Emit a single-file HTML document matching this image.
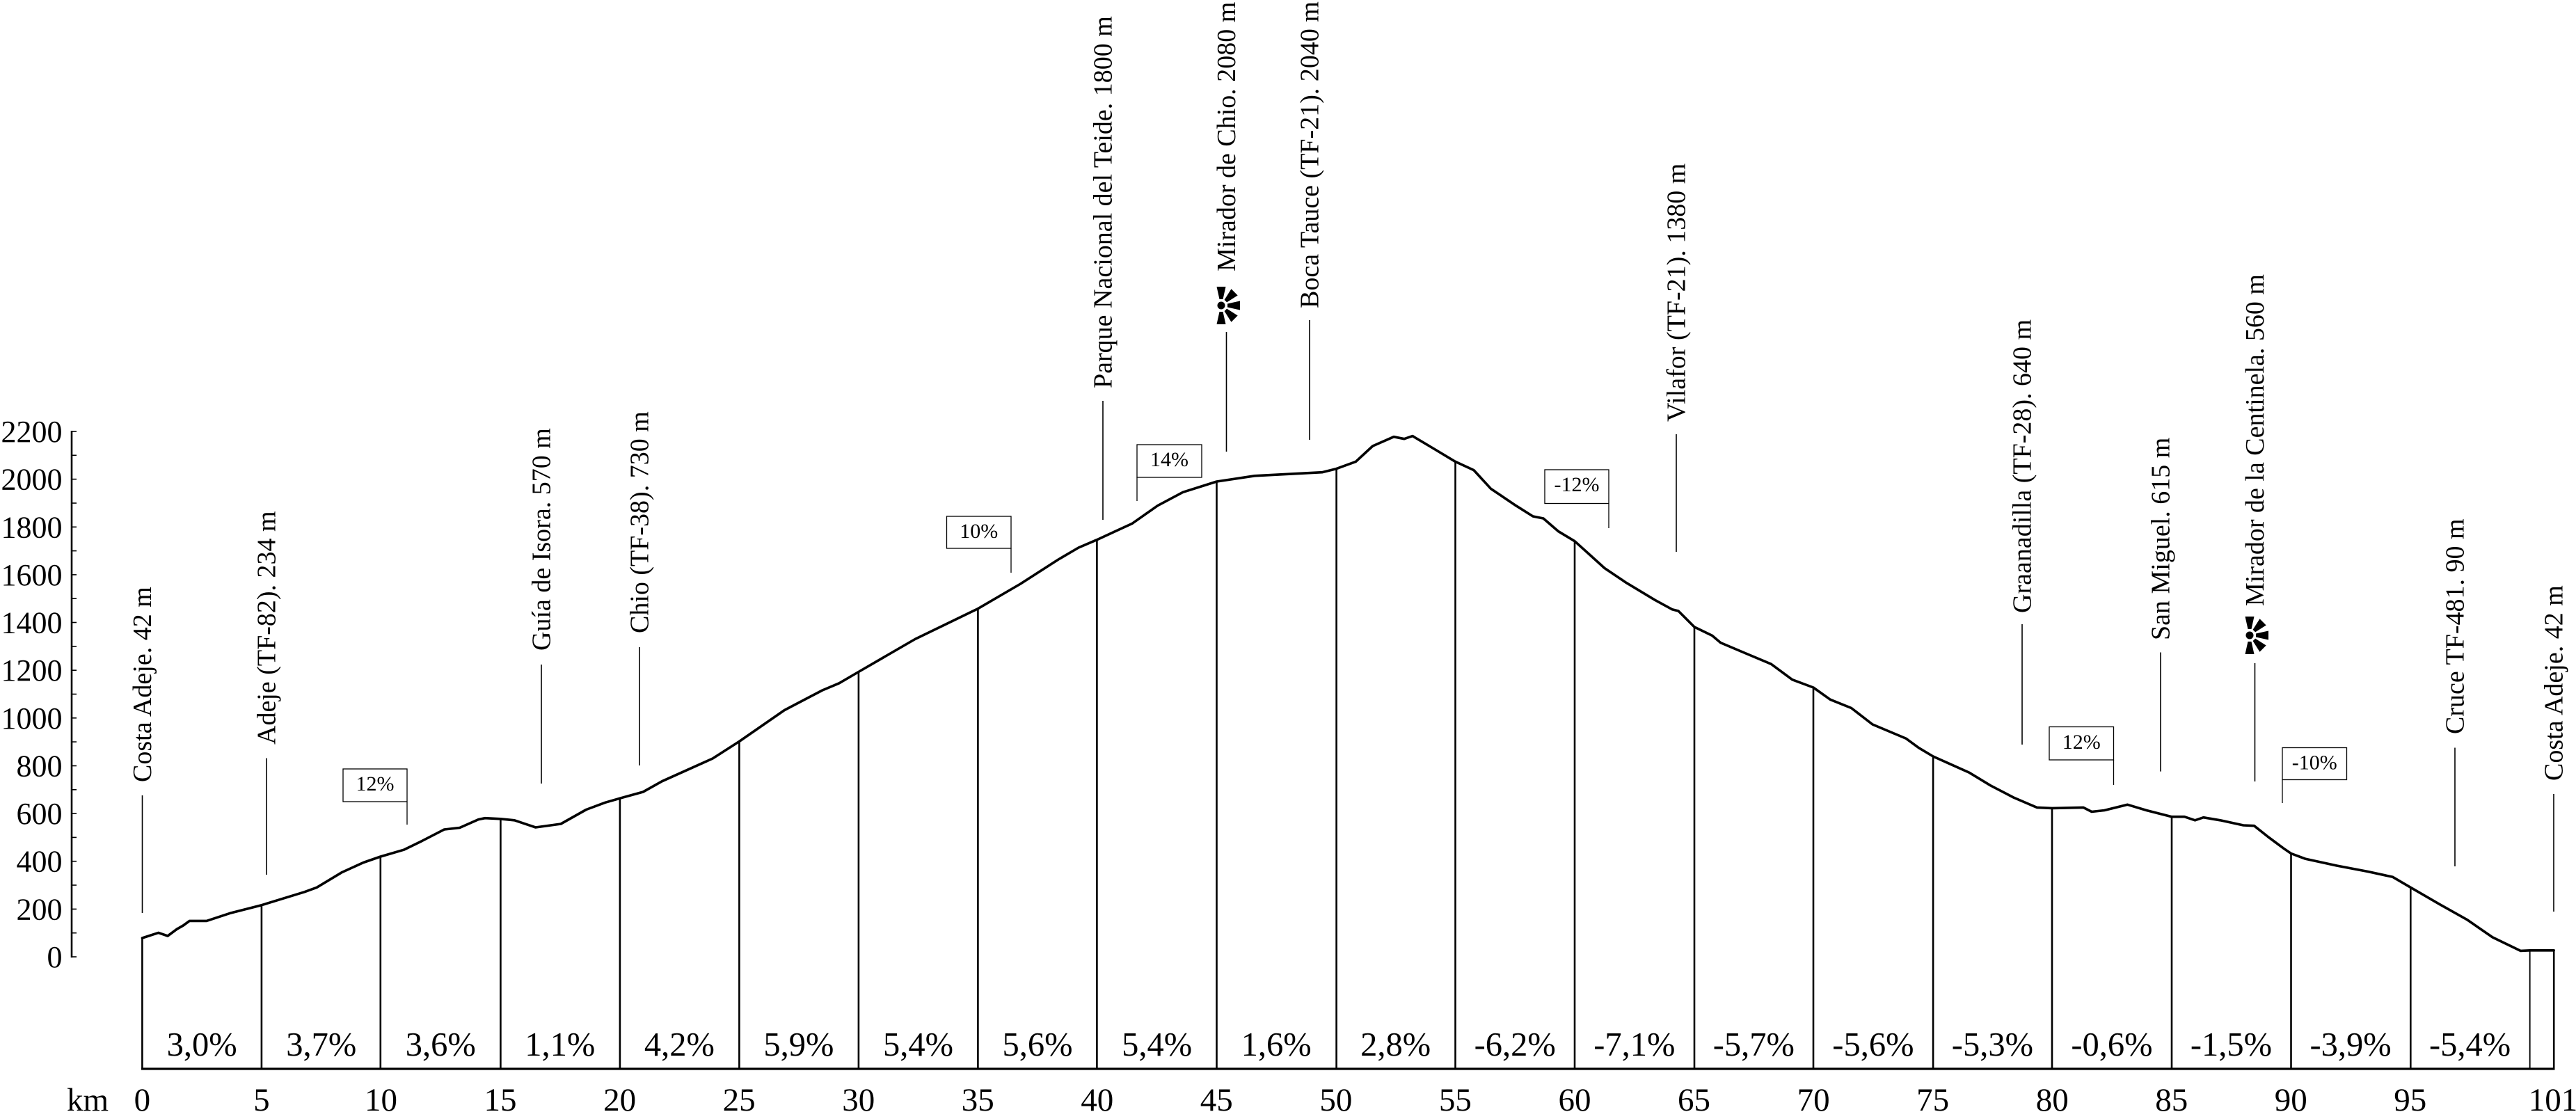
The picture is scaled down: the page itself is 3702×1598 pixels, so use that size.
<!DOCTYPE html>
<html>
<head>
<meta charset="utf-8">
<style>
  html,body{margin:0;padding:0;background:#fff;}
  svg{display:block;}
  text{font-family:"Liberation Serif","Times New Roman",serif;fill:#000;}
</style>
</head>
<body>
<svg width="3702" height="1598" viewBox="0 0 3702 1598" xmlns="http://www.w3.org/2000/svg" font-family="Liberation Serif, Times New Roman, serif">
<rect width="3702" height="1598" fill="#fff"/>

<!-- Y axis -->
<g stroke="#000" fill="none">
  <line x1="103" y1="619" x2="103" y2="1376" stroke-width="2.6"/>
  <g stroke-width="1.6">
    <line x1="103" y1="1375" x2="110" y2="1375"/>
    <line x1="103" y1="1340.7" x2="110" y2="1340.7"/>
    <line x1="103" y1="1306.4" x2="110" y2="1306.4"/>
    <line x1="103" y1="1272.0" x2="110" y2="1272.0"/>
    <line x1="103" y1="1237.7" x2="110" y2="1237.7"/>
    <line x1="103" y1="1203.4" x2="110" y2="1203.4"/>
    <line x1="103" y1="1169.1" x2="110" y2="1169.1"/>
    <line x1="103" y1="1134.8" x2="110" y2="1134.8"/>
    <line x1="103" y1="1100.5" x2="110" y2="1100.5"/>
    <line x1="103" y1="1066.1" x2="110" y2="1066.1"/>
    <line x1="103" y1="1031.8" x2="110" y2="1031.8"/>
    <line x1="103" y1="997.5" x2="110" y2="997.5"/>
    <line x1="103" y1="963.2" x2="110" y2="963.2"/>
    <line x1="103" y1="928.9" x2="110" y2="928.9"/>
    <line x1="103" y1="894.5" x2="110" y2="894.5"/>
    <line x1="103" y1="860.2" x2="110" y2="860.2"/>
    <line x1="103" y1="825.9" x2="110" y2="825.9"/>
    <line x1="103" y1="791.6" x2="110" y2="791.6"/>
    <line x1="103" y1="757.3" x2="110" y2="757.3"/>
    <line x1="103" y1="723.0" x2="110" y2="723.0"/>
    <line x1="103" y1="688.6" x2="110" y2="688.6"/>
    <line x1="103" y1="654.3" x2="110" y2="654.3"/>
    <line x1="103" y1="620.0" x2="110" y2="620.0"/>
  </g>
</g>
<g font-size="44" text-anchor="end">
  <text x="89.5" y="1390">0</text>
  <text x="89.5" y="1321.4">200</text>
  <text x="89.5" y="1252.7">400</text>
  <text x="89.5" y="1184.1">600</text>
  <text x="89.5" y="1115.5">800</text>
  <text x="89.5" y="1046.8">1000</text>
  <text x="89.5" y="978.2">1200</text>
  <text x="89.5" y="909.5">1400</text>
  <text x="89.5" y="840.9">1600</text>
  <text x="89.5" y="772.3">1800</text>
  <text x="89.5" y="703.6">2000</text>
  <text x="89.5" y="635">2200</text>
</g>

<!-- Segment verticals -->
<g stroke="#000" stroke-width="2.6" fill="none">
  <line x1="204.4" y1="1347" x2="204.4" y2="1536"/>
  <line x1="375.9" y1="1300" x2="375.9" y2="1536"/>
  <line x1="546.8" y1="1230" x2="546.8" y2="1536"/>
  <line x1="719.4" y1="1176" x2="719.4" y2="1536"/>
  <line x1="890.9" y1="1146" x2="890.9" y2="1536"/>
  <line x1="1062.4" y1="1065" x2="1062.4" y2="1536"/>
  <line x1="1233.9" y1="965" x2="1233.9" y2="1536"/>
  <line x1="1405.4" y1="874" x2="1405.4" y2="1536"/>
  <line x1="1576.4" y1="775" x2="1576.4" y2="1536"/>
  <line x1="1748.5" y1="691" x2="1748.5" y2="1536"/>
  <line x1="1920.6" y1="673" x2="1920.6" y2="1536"/>
  <line x1="2091.5" y1="663" x2="2091.5" y2="1536"/>
  <line x1="2263" y1="777" x2="2263" y2="1536"/>
  <line x1="2435" y1="900" x2="2435" y2="1536"/>
  <line x1="2606" y1="987" x2="2606" y2="1536"/>
  <line x1="2778.1" y1="1086" x2="2778.1" y2="1536"/>
  <line x1="2949" y1="1160" x2="2949" y2="1536"/>
  <line x1="3121" y1="1173" x2="3121" y2="1536"/>
  <line x1="3292.5" y1="1226" x2="3292.5" y2="1536"/>
  <line x1="3464.3" y1="1275" x2="3464.3" y2="1536"/>
  <line x1="3635.7" y1="1365" x2="3635.7" y2="1536" stroke-width="1.8"/>
  <line x1="3670.2" y1="1365" x2="3670.2" y2="1536"/>
</g>
<!-- X axis baseline -->
<line x1="203" y1="1536" x2="3671.5" y2="1536" stroke="#000" stroke-width="3.2"/>

<!-- Profile curve -->
<polyline fill="none" stroke="#000" stroke-width="3.6" stroke-linejoin="round" stroke-linecap="round" points="
204.4,1348 227.7,1340.4 241,1345 254.5,1335 263.3,1330 272.3,1323.4 296.9,1323.4 330.3,1312.4 375.9,1300.7
437.5,1281.8 455.3,1275.3 491,1253.8 522.3,1239.5 546.8,1231 580.3,1221.2 607,1208.2 638.4,1192 660.7,1189.5
687.5,1177.6 697,1175.7 719.4,1176.8 739.4,1178.8 769.7,1189 806,1184 842.4,1163.5 869.7,1153.3 890.9,1147.2
924.2,1138 951.5,1122.7 1024.2,1090 1062.4,1065.5 1127.2,1020.6 1181.8,992 1206,981.8 1233.9,965.5 1315,918.5
1405.4,874.7 1466.6,839 1521,804 1550,787 1576.4,775.7 1627.3,752.2 1663.6,726.7 1700,707.3 1748.5,692
1803,683.8 1900,678.7 1920.6,673.6 1948.4,663.4 1972.7,641 2003,627.7 2018,630.7 2030,626.6 2057.5,643
2091.5,663.4 2118,675.6 2142.4,702.2 2178.7,726.7 2203,742 2218,745 2239.3,763.4 2263,777.7 2306,816.5
2336.3,836.9 2378.7,862.4 2403,875.7 2412,878 2435,901 2460.6,913.4 2472.7,923.6 2509,939 2545.4,954.3
2575.7,976.7 2606,988 2630.3,1005.3 2660.6,1017.5 2691,1041 2739.4,1061.4 2757.5,1074.7 2778.1,1087
2830.3,1110.4 2860.6,1128.8 2893.9,1146.1 2927.2,1160.4 2949,1161.4 2993.9,1160.4 3006,1166.5 3024.2,1164.5
3057.5,1156.3 3084.8,1164.5 3121,1173.7 3139.3,1173.7 3154.5,1178.8 3166.6,1174.7 3190.8,1178.8 3224,1186
3239.5,1186.7 3260,1203 3282,1219.3 3292.5,1226.5 3313.4,1234.3 3358.2,1244 3402.9,1252.5 3438.7,1260.3
3464.3,1275.3 3505.9,1299.4 3546.2,1322.1 3582,1346.9 3622.3,1366.4 3635.7,1365.8 3670.2,1365.8"/>

<!-- Percent labels -->
<g font-size="48.5" text-anchor="middle">
  <text x="290.2" y="1517">3,0%</text>
  <text x="461.8" y="1517">3,7%</text>
  <text x="633.3" y="1517">3,6%</text>
  <text x="804.8" y="1517">1,1%</text>
  <text x="976.4" y="1517">4,2%</text>
  <text x="1147.9" y="1517">5,9%</text>
  <text x="1319.5" y="1517">5,4%</text>
  <text x="1491.0" y="1517">5,6%</text>
  <text x="1662.6" y="1517">5,4%</text>
  <text x="1834.1" y="1517">1,6%</text>
  <text x="2005.7" y="1517">2,8%</text>
  <text x="2177.2" y="1517">-6,2%</text>
  <text x="2348.8" y="1517">-7,1%</text>
  <text x="2520.3" y="1517">-5,7%</text>
  <text x="2691.9" y="1517">-5,6%</text>
  <text x="2863.4" y="1517">-5,3%</text>
  <text x="3035.0" y="1517">-0,6%</text>
  <text x="3206.5" y="1517">-1,5%</text>
  <text x="3378.1" y="1517">-3,9%</text>
  <text x="3549.6" y="1517">-5,4%</text>
</g>

<!-- km labels -->
<g font-size="47" text-anchor="middle">
  <text x="126" y="1596">km</text>
  <text x="204.4" y="1596">0</text>
  <text x="375.9" y="1596">5</text>
  <text x="547.5" y="1596">10</text>
  <text x="719.0" y="1596">15</text>
  <text x="890.6" y="1596">20</text>
  <text x="1062.1" y="1596">25</text>
  <text x="1233.7" y="1596">30</text>
  <text x="1405.2" y="1596">35</text>
  <text x="1576.8" y="1596">40</text>
  <text x="1748.3" y="1596">45</text>
  <text x="1919.9" y="1596">50</text>
  <text x="2091.4" y="1596">55</text>
  <text x="2263.0" y="1596">60</text>
  <text x="2434.5" y="1596">65</text>
  <text x="2606.1" y="1596">70</text>
  <text x="2777.6" y="1596">75</text>
  <text x="2949.2" y="1596">80</text>
  <text x="3120.7" y="1596">85</text>
  <text x="3292.3" y="1596">90</text>
  <text x="3463.8" y="1596">95</text>
  <text x="3669" y="1596">101</text>
</g>

<!-- Leaders -->
<g stroke="#000" stroke-width="1.6">
  <line x1="204.5" y1="1143" x2="204.5" y2="1312"/>
  <line x1="383" y1="1089.5" x2="383" y2="1257"/>
  <line x1="778" y1="955" x2="778" y2="1126"/>
  <line x1="919" y1="930" x2="919" y2="1100"/>
  <line x1="1585" y1="576" x2="1585" y2="747"/>
  <line x1="1762.5" y1="477" x2="1762.5" y2="649"/>
  <line x1="1882" y1="460" x2="1882" y2="632"/>
  <line x1="2409" y1="624" x2="2409" y2="793"/>
  <line x1="2906" y1="897" x2="2906" y2="1070"/>
  <line x1="3105" y1="937.5" x2="3105" y2="1108.6"/>
  <line x1="3240.5" y1="953" x2="3240.5" y2="1123"/>
  <line x1="3528" y1="1074.5" x2="3528" y2="1245"/>
  <line x1="3670" y1="1141" x2="3670" y2="1310"/>
</g>

<!-- Rotated place labels -->
<g font-size="38">
  <text transform="translate(217,1124) rotate(-90)">Costa Adeje. 42 m</text>
  <text transform="translate(395.5,1070) rotate(-90)">Adeje (TF-82). 234 m</text>
  <text transform="translate(790.5,935) rotate(-90)">Guía de Isora. 570 m</text>
  <text transform="translate(931.5,910) rotate(-90)">Chio (TF-38). 730 m</text>
  <text transform="translate(1597.5,558) rotate(-90)">Parque Nacional del Teide. 1800 m</text>
  <text transform="translate(1775,390) rotate(-90)">Mirador de Chio. 2080 m</text>
  <text transform="translate(1894.5,443) rotate(-90)">Boca Tauce (TF-21). 2040 m</text>
  <text transform="translate(2421.5,606) rotate(-90)">Vilafor (TF-21). 1380 m</text>
  <text transform="translate(2918.5,881) rotate(-90)">Graanadilla (TF-28). 640 m</text>
  <text transform="translate(3117.5,920) rotate(-90)">San Miguel. 615 m</text>
  <text transform="translate(3253,871) rotate(-90)">Mirador de la Centinela. 560 m</text>
  <text transform="translate(3540.5,1055) rotate(-90)">Cruce TF-481. 90 m</text>
  <text transform="translate(3682.5,1122) rotate(-90)">Costa Adeje. 42 m</text>
</g>

<!-- Mirador icons -->
<defs>
  <g id="mir">
    <circle cx="0" cy="0" r="5.5" fill="#000"/>
    <polygon points="9,-2.5 27,-6.5 27,6.5 9,2.5" fill="#000"/>
    <polygon points="9,-2.5 27,-6.5 27,6.5 9,2.5" fill="#000" transform="rotate(-45)"/>
    <polygon points="9,-2.5 27,-6.5 27,6.5 9,2.5" fill="#000" transform="rotate(45)"/>
    <polygon points="9,-2.5 27,-6.5 27,6.5 9,2.5" fill="#000" transform="rotate(-90)"/>
    <polygon points="9,-2.5 27,-6.5 27,6.5 9,2.5" fill="#000" transform="rotate(90)"/>
  </g>
</defs>
<use href="#mir" x="1755" y="439"/>
<use href="#mir" x="3233" y="913"/>

<!-- Gradient flag boxes -->
<g stroke="#000" stroke-width="1.3" fill="#fff">
  <rect x="493" y="1105" width="92" height="47"/>
  <line x1="585" y1="1152" x2="585" y2="1185"/>
  <rect x="1360.5" y="742" width="92.5" height="46"/>
  <line x1="1453" y1="788" x2="1453" y2="823"/>
  <rect x="1634" y="639" width="93" height="47"/>
  <line x1="1634" y1="686" x2="1634" y2="720"/>
  <rect x="2220" y="675" width="92" height="48.5"/>
  <line x1="2312" y1="723.5" x2="2312" y2="759"/>
  <rect x="2945" y="1044.5" width="92.5" height="47.5"/>
  <line x1="3037.5" y1="1092" x2="3037.5" y2="1128"/>
  <rect x="3280" y="1074.5" width="92.5" height="46"/>
  <line x1="3280" y1="1120.5" x2="3280" y2="1154"/>
</g>
<g font-size="30" text-anchor="middle">
  <text x="539" y="1136">12%</text>
  <text x="1406.7" y="773">10%</text>
  <text x="1680.5" y="670">14%</text>
  <text x="2266" y="706">-12%</text>
  <text x="2991.2" y="1076">12%</text>
  <text x="3326.2" y="1105.5">-10%</text>
</g>
</svg>
</body>
</html>
